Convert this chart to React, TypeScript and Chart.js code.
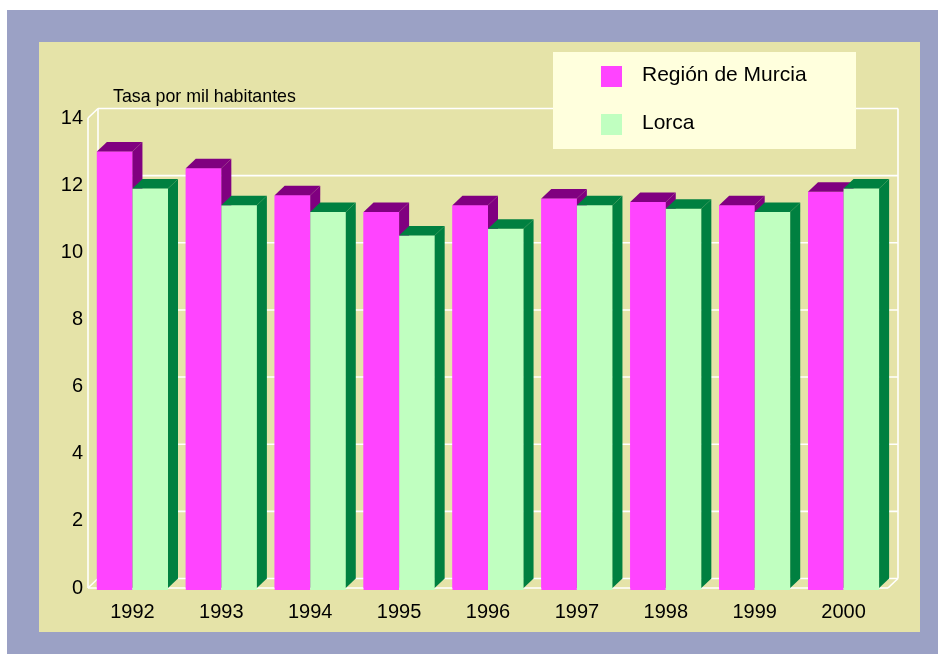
import React, { useEffect, useRef } from "react";
import { Chart, registerables } from "chart.js";

Chart.register(...registerables);

const years = ["1992", "1993", "1994", "1995", "1996", "1997", "1998", "1999", "2000"];
const murcia = [13.0, 12.5, 11.7, 11.2, 11.4, 11.6, 11.5, 11.4, 11.8];
const lorca = [11.9, 11.4, 11.2, 10.5, 10.7, 11.4, 11.3, 11.2, 11.9];
const seriesNames = ["Región de Murcia", "Lorca"];
const axisTitle = "Tasa por mil habitantes";
const yMin = 0;
const yMax = 14;
const yStep = 2;

const FONT = '"Liberation Sans", Arial, sans-serif';
const DX = 10;
const DY = 9.5;
const frontColors = ["#ff44ff", "#c0ffc0"];
const depthColors = ["#800080", "#008040"];

const chart3dPlugin = {
  id: "chart3d",
  beforeDraw(chart: any) {
    const ctx = chart.ctx;
    ctx.save();
    ctx.fillStyle = "#ffffff";
    ctx.fillRect(0, 0, chart.width, chart.height);
    ctx.fillStyle = "#9ba1c5";
    ctx.fillRect(7, 10, chart.width - 7, 644);
    ctx.fillStyle = "#e5e3a8";
    ctx.fillRect(39, 42, 881, 590);
    ctx.fillStyle = "#000000";
    ctx.font = "17.8px " + FONT;
    ctx.textBaseline = "alphabetic";
    ctx.textAlign = "left";
    ctx.fillText(axisTitle, 113, 101.5);
    ctx.restore();
  },
  beforeDatasetsDraw(chart: any) {
    const ctx = chart.ctx;
    const { left, right, top, bottom } = chart.chartArea;
    const y = chart.scales.y;
    ctx.save();
    ctx.strokeStyle = "#ffffff";
    ctx.lineWidth = 1.6;
    const line = (x1: number, y1: number, x2: number, y2: number) => {
      ctx.beginPath();
      ctx.moveTo(x1, y1);
      ctx.lineTo(x2, y2);
      ctx.stroke();
    };
    y.ticks.forEach((t: any) => {
      const py = y.getPixelForValue(t.value);
      line(left + DX, py - DY, right + DX, py - DY);
    });
    line(left + DX, top - DY, left + DX, bottom - DY);
    line(right + DX, top - DY, right + DX, bottom - DY);
    line(left, top, left, bottom);
    line(left, top, left + DX, top - DY);
    line(left, bottom, left + DX, bottom - DY);
    line(right, bottom, right + DX, bottom - DY);
    line(left, bottom, right, bottom);
    ctx.restore();
  },
  afterDatasetsDraw(chart: any) {
    const ctx = chart.ctx;
    ctx.save();
    chart.data.datasets.forEach((_ds: any, di: number) => {
      const meta = chart.getDatasetMeta(di);
      meta.data.forEach((bar: any) => {
        const x0 = bar.x - bar.width / 2;
        const x1 = bar.x + bar.width / 2;
        const yt = bar.y;
        const yb = bar.base;
        ctx.fillStyle = frontColors[di];
        ctx.fillRect(x0, yt, x1 - x0, yb - yt + 2);
        ctx.fillStyle = depthColors[di];
        ctx.beginPath();
        ctx.moveTo(x0, yt);
        ctx.lineTo(x1, yt);
        ctx.lineTo(x1 + DX, yt - DY);
        ctx.lineTo(x0 + DX, yt - DY);
        ctx.closePath();
        ctx.fill();
        ctx.beginPath();
        ctx.moveTo(x1, yt);
        ctx.lineTo(x1 + DX, yt - DY);
        ctx.lineTo(x1 + DX, yb - DY);
        ctx.lineTo(x1, yb);
        ctx.closePath();
        ctx.fill();
      });
    });
    // legend
    ctx.fillStyle = "#ffffdd";
    ctx.fillRect(553, 52, 303, 97);
    ctx.font = "21px " + FONT;
    ctx.textBaseline = "alphabetic";
    ctx.textAlign = "left";
    seriesNames.forEach((name, i) => {
      const my = 66 + i * 48;
      ctx.fillStyle = frontColors[i];
      ctx.fillRect(601, my, 21, 21);
      ctx.fillStyle = "#000000";
      ctx.fillText(name, 642, my + 15);
    });
    ctx.restore();
  },
};

export default function App() {
  const ref = useRef<HTMLCanvasElement | null>(null);
  useEffect(() => {
    if (!ref.current) return;
    const chart = new Chart(ref.current, {
      type: "bar",
      data: {
        labels: years,
        datasets: [
          { label: seriesNames[0], data: murcia, backgroundColor: frontColors[0], borderWidth: 0 },
          { label: seriesNames[1], data: lorca, backgroundColor: frontColors[1], borderWidth: 0 },
        ],
      },
      options: {
        responsive: false,
        animation: false,
        devicePixelRatio: 1,
        layout: { padding: { left: 0, top: 118, right: 50, bottom: 0 } },
        datasets: { bar: { categoryPercentage: 0.8, barPercentage: 1.0 } },
        plugins: { legend: { display: false }, tooltip: { enabled: false } },
        scales: {
          x: {
            grid: { display: false, drawTicks: false },
            border: { display: false },
            ticks: { color: "#000", font: { family: FONT, size: 20 }, padding: 12, maxRotation: 0 },
            afterFit: (s: any) => {
              s.height = 67;
            },
          },
          y: {
            min: yMin,
            max: yMax,
            grid: { display: false, drawTicks: false },
            border: { display: false },
            ticks: { stepSize: yStep, color: "#000", font: { family: FONT, size: 20 }, padding: 5 },
            afterFit: (s: any) => {
              s.width = 88;
            },
          },
        },
      },
      plugins: [chart3dPlugin],
    });
    return () => chart.destroy();
  }, []);
  return (
    <div style={{ position: "fixed", left: 0, top: 0, width: 938, height: 655 }}>
      <canvas ref={ref} width={938} height={655} />
    </div>
  );
}
